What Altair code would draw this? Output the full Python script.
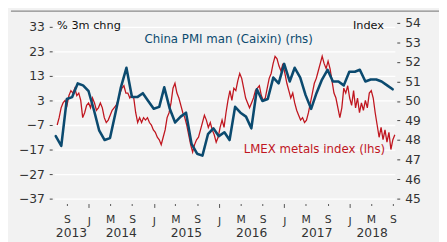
import altair as alt
import pandas as pd

# ---------------- data ----------------
# China PMI manufacturing (Caixin), monthly, Jun 2013 .. Aug 2018 (plotted at month end)
pmi_start = "2013-06-01"
pmi_values = [
    48.2, 47.7, 50.1, 50.2, 50.9, 50.8, 50.5,
    49.5, 48.5, 48.0, 48.1, 49.4, 50.7, 51.7, 50.2, 50.2, 50.4, 50.0, 49.6,
    49.7, 50.7, 49.6, 48.9, 49.2, 49.4, 47.8, 47.3, 47.2, 48.3, 48.6, 48.2,
    48.4, 48.0, 49.7, 49.4, 49.2, 48.6, 50.6, 50.0, 50.1, 51.2, 50.9, 51.9,
    51.0, 51.7, 51.2, 50.3, 49.6, 50.4, 51.1, 51.6, 51.0, 51.0, 50.8, 51.5,
    51.5, 51.6, 51.0, 51.1, 51.1, 51.0, 50.8, 50.6,
]

# LMEX metals index, % 3m change, sampled every 11 days from 2013-07-08
lmex_start = "2013-07-08"
lmex_step_days = 11
lmex_values = [
    -7, -4, 0, 2, 3, 1, 5, 7, 6, 8, 5, 6, 3, -4, -2, 1, 2, 0, 4, 2,
    -1, 0, 2, 0, -4, -6, -5, -3, -1, 0, 1, 3, 6, 8, 9, 6, 6, 4, 5, 4,
    -2, -6, -4, -6, -4, -5, -4, -6, -7, -9, -10, -12, -13, -15, -12, -9, -4, -2, 2, 8,
    10, 6, 4, 1, -2, -4, -7, -11, -15, -18, -15, -13, -12, -9, -6, -3, -5, -8, -6, -9,
    -11, -14, -12, -8, -5, -8, -2, 3, 7, 3, 8, 7, 11, 14, 12, 8, 4, 2, 0, 2,
    4, 7, 8, 9, 5, 3, 4, 8, 12, 14, 18, 21, 20, 17, 15, 18, 14, 10, 7, 4,
    6, 2, -1, -3, -5, -4, -6, -5, -2, 2, 6, 10, 12, 15, 18, 21, 18, 16, 19, 16,
    11, 6, 4, 0, -4, 0, 8, 6, 9, 4, 1, 7, 0, 4, -2, 2, -1, 3, 0, 6,
    7, 4, -2, -7, -12, -8, -13, -9, -14, -10, -17, -13, -11,
]

left_ticks = [-37, -27, -17, -7, 3, 13, 23, 33]
right_ticks = [45, 46, 47, 48, 49, 50, 51, 52, 53, 54]
x_domain = ["2013-06-21", "2018-09-12"]
x_tick_start, x_tick_end = "2013-09-01", "2018-09-01"
month_letters = ["J", "F", "M", "A", "M", "J", "J", "A", "S", "O", "N", "D"]
years = [2013, 2014, 2015, 2016, 2017, 2018]

RED = "#c0161f"
BLUE = "#0b4a6f"
TXT = "#333333"
FONT = "DejaVu Sans"

# ---------------- frames ----------------
pmi_dates = pd.date_range(pmi_start, periods=len(pmi_values), freq="MS") + pd.offsets.MonthEnd(0)
pmi_df = pd.DataFrame({"date": [d.strftime("%Y-%m-%d") for d in pmi_dates], "v": pmi_values})

lmex_dates = pd.date_range(lmex_start, periods=len(lmex_values), freq=f"{lmex_step_days}D")
lmex_df = pd.DataFrame({"date": [d.strftime("%Y-%m-%d") for d in lmex_dates], "v": lmex_values})

def ms(d):
    return int(pd.Timestamp(d).value // 10**6)

dom0, dom1 = pd.Timestamp(x_domain[0]), pd.Timestamp(x_domain[1])
tick_dates = pd.date_range(x_tick_start, x_tick_end, freq="4MS")
tick_ms = [ms(d) for d in tick_dates]

year_rows = []
for y in years:
    a = max(pd.Timestamp(f"{y}-01-01"), dom0)
    b = min(pd.Timestamp(f"{y + 1}-01-01"), dom1)
    mid = a + (b - a) / 2
    year_rows.append({"date": mid.strftime("%Y-%m-%d"), "label": str(y)})
year_df = pd.DataFrame(year_rows)

# ---------------- encodings ----------------
xscale = alt.Scale(type="utc", domain=[ms(x_domain[0]), ms(x_domain[1])], nice=False)
letters_js = "[" + ",".join(f"'{m}'" for m in month_letters) + "]"
xaxis = alt.Axis(
    values=tick_ms,
    labelExpr=f"{letters_js}[utcmonth(datum.value)]",
    title=None,
    domain=False,
    grid=False,
    offset=5,
    tickSize={"condition": {"test": "utcmonth(datum.value) == 0", "value": 4}, "value": 2},
    tickColor="#555555",
    labelPadding=8,
    labelFontSize=11,
    labelFont=FONT,
    labelColor=TXT,
    labelFlush=False,
)
x_enc = alt.X("date:T", scale=xscale, axis=xaxis)

left_axis = alt.Axis(
    orient="left", values=left_ticks, title=None, domain=False, offset=2,
    tickSize=3, tickColor="#444444", labelPadding=5, labelFontSize=12.5,
    labelFont=FONT, labelColor=TXT, grid=True, gridColor="#ffffff", gridWidth=1.3,
)
right_axis = alt.Axis(
    orient="right", values=right_ticks, title=None, domain=False, offset=2,
    tickSize=3, tickColor="#444444", labelPadding=5, labelFontSize=12.5,
    labelFont=FONT, labelColor=TXT, grid=False,
)

red = alt.Chart(lmex_df).mark_line(color=RED, strokeWidth=1.3).encode(
    x=x_enc,
    y=alt.Y("v:Q", scale=alt.Scale(domain=[-37, 34.6], nice=False, zero=False), axis=left_axis),
)
blue = alt.Chart(pmi_df).mark_line(
    color=BLUE, strokeWidth=2.6, strokeJoin="round", strokeCap="round"
).encode(
    x=x_enc,
    y=alt.Y("v:Q", scale=alt.Scale(domain=[45, 54], nice=False, zero=False), axis=right_axis),
)

yr = alt.Chart(year_df).mark_text(fontSize=12.5, font=FONT, color=TXT, baseline="middle").encode(
    x=x_enc, y=alt.value(214), text="label:N"
)

one = pd.DataFrame({"a": [0]})
def label(txt, x, y, color, size=12, align="left"):
    return alt.Chart(one).mark_text(
        text=txt, fontSize=size, font=FONT, color=color, align=align, baseline="alphabetic"
    ).encode(x=alt.value(x), y=alt.value(y))

top_rule = alt.Chart(one).mark_rule(color="#8a8a8a", strokeWidth=1.5).encode(
    x=alt.value(-44), x2=alt.value(392), y=alt.value(-12)
)

chart = alt.layer(
    red, blue, yr,
    label("% 3m chng", 3, 6, "#111111", size=11.5),
    label("Index", 336, 6, "#111111", size=11.5, align="right"),
    label("China PMI man (Caixin) (rhs)", 92, 20, BLUE),
    label("LMEX metals index (lhs)", 193, 133, RED),
    top_rule,
).resolve_scale(y="independent").properties(
    width=347, height=179,
    padding={"left": 47, "top": 13, "right": 45, "bottom": 42},
    autosize=alt.AutoSizeParams(type="none"),
    background="#f2f2f2",
).configure_view(stroke=None)

chart.save("out.html", embed_options={"renderer": "svg", "actions": False})
